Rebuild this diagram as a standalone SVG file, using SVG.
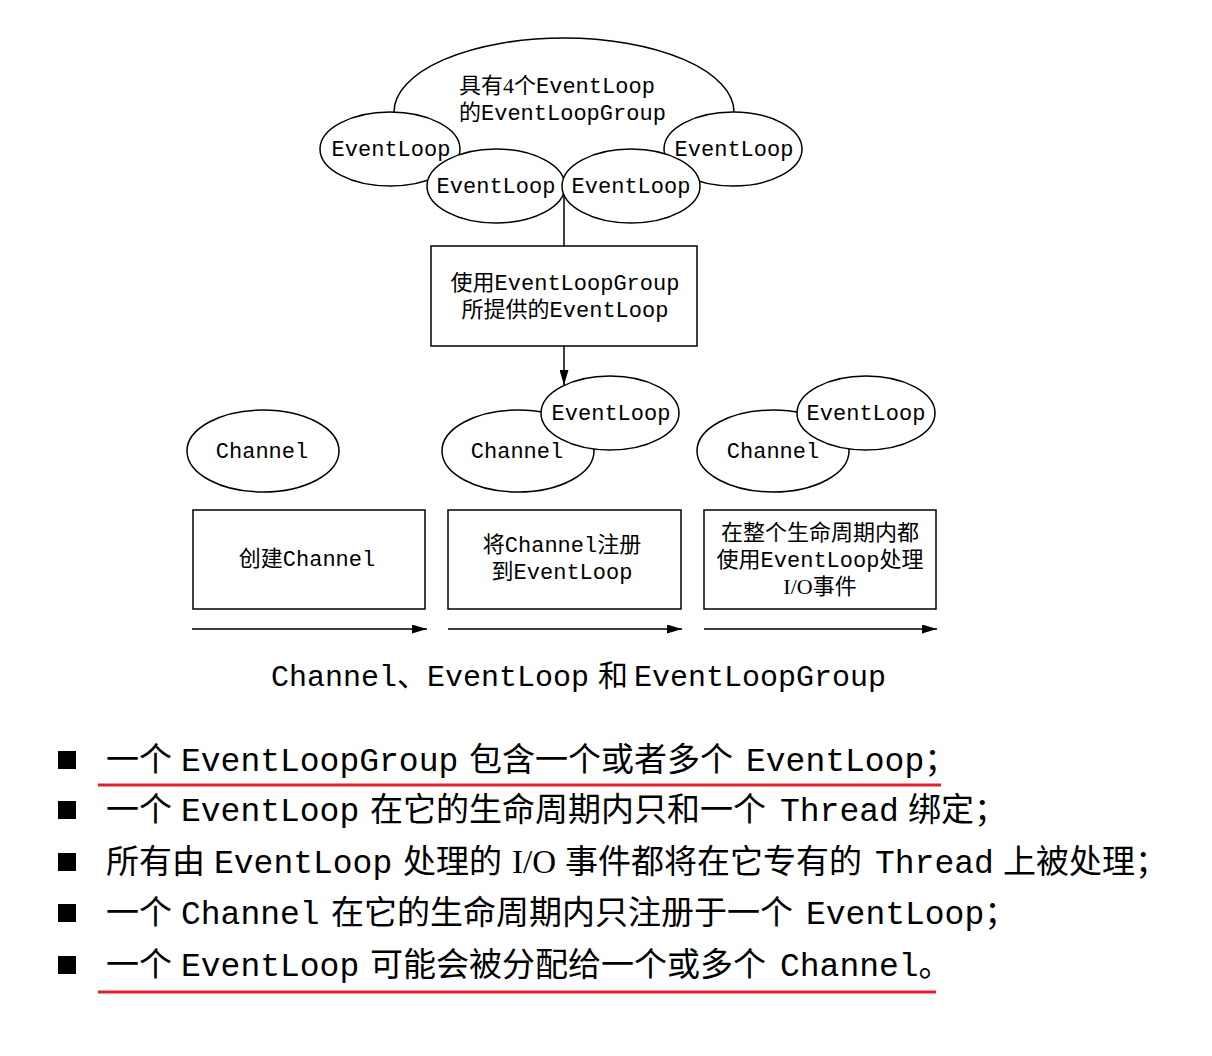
<svg xmlns="http://www.w3.org/2000/svg" width="1212" height="1056" viewBox="0 0 1212 1056">
<style>
.sh{fill:#fff;stroke:#000;stroke-width:1.5}
.t{font-family:"Liberation Mono","Noto Sans CJK SC",monospace;font-size:22px;fill:#000}
.c{text-anchor:middle}
.s{font-family:"Liberation Serif","Noto Sans CJK SC",serif}
.ln{stroke:#000;stroke-width:1.5;fill:none}
.b{font-family:"Liberation Mono","Noto Sans CJK SC",monospace;font-size:33px;fill:#000}
.red{stroke:#e0202a;stroke-width:3}
</style>
<defs>
<marker id="ah" viewBox="0 0 15 9" refX="15" refY="4.5" markerWidth="15" markerHeight="9" markerUnits="userSpaceOnUse" orient="auto">
<path d="M0,0 L15,4.5 L0,9 Z" fill="#000"/>
</marker>
</defs>
<rect width="1212" height="1056" fill="#fff"/>
<g id="connectors">
<path class="ln" d="M564,188 V246"/>
<path class="ln" d="M564,346 V385" marker-end="url(#ah)"/>
<path class="ln" d="M192,629 H427" marker-end="url(#ah)"/>
<path class="ln" d="M448,629 H682" marker-end="url(#ah)"/>
<path class="ln" d="M704,629 H937" marker-end="url(#ah)"/>
</g>
<g id="group">
<ellipse class="sh" cx="564" cy="112" rx="170" ry="74"/>
<text class="t" x="459" y="93">具有<tspan class="s">4</tspan>个EventLoop</text>
<text class="t" x="459" y="120">的EventLoopGroup</text>
</g>
<g id="el1"><ellipse class="sh" cx="390" cy="149" rx="70" ry="37"/><text class="t c" x="391" y="156">EventLoop</text></g>
<g id="el4"><ellipse class="sh" cx="733" cy="149" rx="69" ry="37"/><text class="t c" x="734" y="156">EventLoop</text></g>
<g id="el2"><ellipse class="sh" cx="496" cy="186" rx="69" ry="37"/><text class="t c" x="496" y="193">EventLoop</text></g>
<g id="el3"><ellipse class="sh" cx="631" cy="186" rx="69" ry="37"/><text class="t c" x="631" y="193">EventLoop</text></g>
<g id="provide">
<rect class="sh" x="431" y="246" width="266" height="100"/>
<text class="t c" x="565" y="290">使用EventLoopGroup</text>
<text class="t c" x="565" y="317">所提供的EventLoop</text>
</g>
<g id="ch1"><ellipse class="sh" cx="263" cy="451" rx="76" ry="41"/><text class="t c" x="262" y="458">Channel</text></g>
<g id="ch2"><ellipse class="sh" cx="518" cy="451" rx="76" ry="41"/><text class="t c" x="517" y="458">Channel</text></g>
<g id="el5"><ellipse class="sh" cx="610" cy="413" rx="69" ry="37"/><text class="t c" x="611" y="420">EventLoop</text></g>
<g id="ch3"><ellipse class="sh" cx="773" cy="451" rx="76" ry="41"/><text class="t c" x="773" y="458">Channel</text></g>
<g id="el6"><ellipse class="sh" cx="866" cy="413" rx="69" ry="37"/><text class="t c" x="866" y="420">EventLoop</text></g>
<g id="boxA">
<rect class="sh" x="193" y="510" width="232" height="99"/>
<text class="t c" x="307" y="566">创建Channel</text>
</g>
<g id="boxB">
<rect class="sh" x="448" y="510" width="233" height="99"/>
<text class="t c" x="562" y="552">将Channel注册</text>
<text class="t c" x="562" y="579">到EventLoop</text>
</g>
<g id="boxC">
<rect class="sh" x="704" y="510" width="232" height="99"/>
<text class="t c" x="820" y="540">在整个生命周期内都</text>
<text class="t c" x="820" y="567">使用EventLoop处理</text>
<text class="t c" x="820" y="594"><tspan class="s">I/O</tspan>事件</text>
</g>
<g id="caption">
<text class="b" style="font-size:30px" y="686"><tspan x="271">Channel、EventLoop</tspan><tspan x="598">和</tspan><tspan x="634">EventLoopGroup</tspan></text>
</g>
<g id="bullets">
<rect x="58" y="751" width="18" height="18"/>
<rect x="58" y="801" width="18" height="18"/>
<rect x="58" y="853" width="18" height="18"/>
<rect x="58" y="904" width="18" height="18"/>
<rect x="58" y="956" width="18" height="18"/>
<text class="b" y="771"><tspan x="106">一个</tspan><tspan x="181">EventLoopGroup</tspan><tspan x="469">包含一个或者多个</tspan><tspan x="746">EventLoop；</tspan></text>
<text class="b" y="821"><tspan x="106">一个</tspan><tspan x="181">EventLoop</tspan><tspan x="370">在它的生命周期内只和一个</tspan><tspan x="780">Thread</tspan><tspan x="908">绑定；</tspan></text>
<text class="b" y="873"><tspan x="106">所有由</tspan><tspan x="214">EventLoop</tspan><tspan x="403">处理的</tspan><tspan x="512" class="s">I/O</tspan><tspan x="565">事件都将在它专有的</tspan><tspan x="875">Thread</tspan><tspan x="1003">上被处理；</tspan></text>
<text class="b" y="924"><tspan x="106">一个</tspan><tspan x="181">Channel</tspan><tspan x="331">在它的生命周期内只注册于一个</tspan><tspan x="806">EventLoop；</tspan></text>
<text class="b" y="976"><tspan x="106">一个</tspan><tspan x="181">EventLoop</tspan><tspan x="370">可能会被分配给一个或多个</tspan><tspan x="780">Channel。</tspan></text>
<line class="red" x1="98" y1="785" x2="941" y2="785"/>
<line class="red" x1="98" y1="992" x2="936" y2="992"/>
</g>
</svg>
